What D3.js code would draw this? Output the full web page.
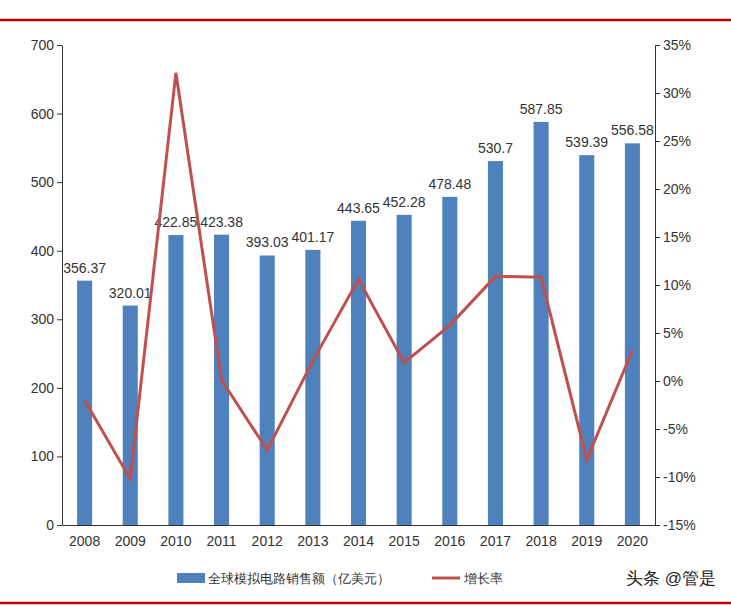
<!DOCTYPE html><html><head><meta charset="utf-8"><script src="https://cdn.jsdelivr.net/npm/d3@7"></script>
<style>body{margin:0;background:#fff}text{font-family:"Liberation Sans Narrow","Liberation Sans",Arial,sans-serif}</style></head><body><svg width="731" height="607"></svg><script>
const years=["2008","2009","2010","2011","2012","2013","2014","2015","2016","2017","2018","2019","2020"];
const sales=[356.37,320.01,422.85,423.38,393.03,401.17,443.65,452.28,478.48,530.7,587.85,539.39,556.58];
const growth=[-2.0,-10.2,32.1,0.1,-7.2,2.1,10.6,1.9,5.8,10.9,10.8,-8.2,3.2];
const leftTicks=[0,100,200,300,400,500,600,700];
const rightTicks=[-15,-10,-5,0,5,10,15,20,25,30,35];
const svg=d3.select("svg");
const x=d3.scaleBand().domain(years).range([62,655]).paddingInner(0.67).paddingOuter(0.33);
const y=d3.scaleLinear().domain([0,700]).range([525,45]);
const y2=d3.scaleLinear().domain([-15,35]).range([525,45]);
svg.append("line").attr("x1",0).attr("x2",731).attr("y1",20).attr("y2",20).attr("stroke","#c00000").attr("stroke-width",2.5);
svg.append("line").attr("x1",0).attr("x2",731).attr("y1",603).attr("y2",603).attr("stroke","#c00000").attr("stroke-width",2.5);
const ax=svg.append("g").attr("transform","translate(62,0)").call(d3.axisLeft(y).tickValues(leftTicks).tickSize(5).tickSizeOuter(0));
const ax2=svg.append("g").attr("transform","translate(655,0)").call(d3.axisRight(y2).tickValues(rightTicks).tickFormat(d=>d+"%").tickSize(5).tickSizeOuter(0));
const axb=svg.append("g").attr("transform","translate(0,525)").call(d3.axisBottom(x).tickSize(0).tickSizeOuter(0));
[ax,ax2,axb].forEach(g=>{g.selectAll("path,line").attr("stroke","#333");g.selectAll("text").attr("font-size",14).attr("fill","#333");});
axb.selectAll("text").attr("dy","1.3em");
svg.selectAll("rect.b").data(sales).join("rect").attr("x",(d,i)=>x(years[i])).attr("width",x.bandwidth()).attr("y",d=>y(d)).attr("height",d=>525-y(d)).attr("fill","#4f81bd");
svg.selectAll("text.l").data(sales).join("text").attr("x",(d,i)=>x(years[i])+x.bandwidth()/2).attr("y",d=>y(d)-8).attr("text-anchor","middle").attr("font-size",14).attr("fill","#333").text(d=>d);
svg.append("path").datum(growth).attr("fill","none").attr("stroke","#c0504d").attr("stroke-width",3).attr("d",d3.line().x((d,i)=>x(years[i])+x.bandwidth()/2).y(d=>y2(d)));
const lg=svg.append("g");
lg.append("rect").attr("x",177).attr("y",573).attr("width",28).attr("height",10).attr("fill","#4f81bd");
lg.append("text").attr("x",208).attr("y",583).attr("font-size",13).attr("fill","#333").text("全球模拟电路销售额（亿美元）");
lg.append("line").attr("x1",432).attr("x2",460).attr("y1",578).attr("y2",578).attr("stroke","#c0504d").attr("stroke-width",3);
lg.append("text").attr("x",464).attr("y",583).attr("font-size",13).attr("fill","#333").text("增长率");
svg.append("text").attr("x",716).attr("y",584).attr("text-anchor","end").attr("font-size",17).attr("fill","#222").text("头条 @管是");
</script></body></html>
